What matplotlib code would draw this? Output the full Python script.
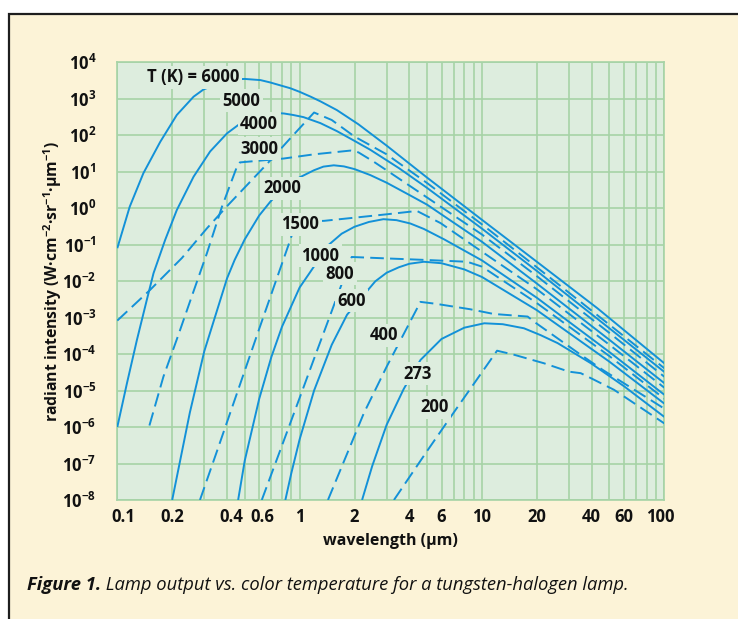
import matplotlib
matplotlib.use('Agg')
import matplotlib.pyplot as plt
from matplotlib.ticker import FixedLocator, NullLocator
from matplotlib.patches import Rectangle
import matplotlib.transforms as mtransforms

# ---------------- data ----------------
wl_6000 = [0.1, 0.117, 0.139, 0.172, 0.212, 0.262, 0.297, 0.37, 0.44, 0.5, 0.61, 0.69, 0.89, 1.0, 1.15, 1.3, 1.6, 2.1, 3, 5, 10, 20, 43, 100]
I_6000 = [0.08, 1.1, 9.1, 66, 360, 1140, 1800, 2800, 3400, 3500, 3250, 2800, 1940, 1550, 1140, 850, 490, 200, 52, 6.9, 0.48, 0.034, 1.8e-3, 5.6e-5]

wl_5000 = [0.1, 0.151, 0.226, 0.31, 0.41, 0.66, 0.89, 1.2, 1.5, 2, 3, 5, 10, 20, 50, 100]
I_5000 = [8.3e-4, 5.7e-3, 0.043, 0.28, 1.3, 16, 83, 420, 262, 92, 30, 4.9, 0.36, 0.024, 6.4e-4, 4.1e-5]

wl_4000 = [0.1, 0.113, 0.128, 0.145, 0.158, 0.183, 0.212, 0.262, 0.323, 0.40, 0.46, 0.55, 0.65, 0.75, 0.82, 0.92, 1.05, 1.3, 1.6, 2.0, 2.44, 3.5, 5, 10, 20, 50, 100]
I_4000 = [1.0e-6, 1.6e-5, 2.4e-4, 3.0e-3, 0.0165, 0.135, 0.89, 7.3, 36, 113, 190, 305, 385, 405, 395, 360, 314, 215, 130, 70, 40, 12.6, 3.6, 0.275, 0.019, 5.1e-4, 3.25e-5]

wl_3000 = [0.15, 0.179, 0.216, 0.256, 0.31, 0.375, 0.453, 0.47, 0.817, 1.2, 1.9, 2.1, 2.55, 3.2, 4.5, 10, 20, 50, 100]
I_3000 = [1.1e-6, 2.4e-5, 3.3e-4, 3.8e-3, 0.058, 1.1, 13.7, 18, 23, 30, 38, 34, 18.8, 8.8, 2.8, 0.19, 0.0137, 3.8e-4, 2.4e-5]

wl_2000 = [0.2, 0.25, 0.3, 0.4, 0.44, 0.5, 0.6, 0.69, 0.8, 1.0, 1.2, 1.35, 1.54, 1.75, 2, 2.44, 3, 4, 5, 10, 20, 50, 100]
I_2000 = [1e-8, 2.5e-6, 1.2e-4, 0.012, 0.038, 0.14, 0.63, 1.5, 3.3, 7, 11, 13.8, 15.0, 14.0, 11.8, 8.1, 5.0, 2.3, 1.25, 0.12, 8.6e-3, 2.46e-4, 1.6e-5]

wl_1500 = [0.284, 0.35, 0.45, 0.6, 0.75, 0.87, 0.96, 1.36, 2, 3, 4.4, 5.93, 10.3, 20, 50, 100]
I_1500 = [1e-8, 2.0e-7, 7.6e-6, 4.9e-4, 0.012, 0.10, 0.43, 0.45, 0.55, 0.68, 0.84, 0.39, 0.058, 6e-3, 1.8e-4, 1.2e-5]

wl_1000 = [0.46, 0.5, 0.6, 0.7, 0.8, 1.0, 1.145, 1.44, 1.7, 2.0, 2.4, 2.88, 3.4, 4.05, 4.8, 6.2, 10, 20, 50, 100]
I_1000 = [1e-8, 1.2e-7, 5.9e-6, 8.4e-5, 5.6e-4, 6.7e-3, 0.018, 0.098, 0.2, 0.31, 0.42, 0.5, 0.47, 0.38, 0.27, 0.14, 0.037, 3.5e-3, 1.14e-4, 7.7e-6]

wl_800 = [0.62, 0.8, 1.0, 1.2, 1.47, 1.93, 3, 5, 8.3, 10, 20, 50, 100]
I_800 = [1e-8, 3.1e-7, 6.3e-6, 7.5e-5, 1.15e-3, 0.046, 0.042, 0.038, 0.034, 0.025, 2.5e-3, 8.8e-5, 6e-6]

wl_600 = [0.835, 0.9, 1.0, 1.2, 1.5, 1.82, 2.3, 2.6, 3, 3.5, 4, 4.8, 6, 8, 10, 20, 50, 100]
I_600 = [1e-8, 5.4e-8, 4.6e-7, 1.0e-5, 1.8e-4, 1.2e-3, 4.8e-3, 9.9e-3, 0.017, 0.024, 0.03, 0.034, 0.031, 0.021, 0.013, 1.6e-3, 6.2e-5, 4.4e-6]

wl_400 = [1.43, 2.25, 3, 4.6, 5.57, 8.6, 11.6, 17.8, 19.7, 26, 34.8, 45.9, 100]
I_400 = [1e-8, 2.4e-6, 4.5e-5, 2.7e-3, 2.4e-3, 1.7e-3, 1.26e-3, 1.07e-3, 7.2e-4, 2.7e-4, 9.6e-5, 3.7e-5, 3.2e-6]

wl_273 = [2.2, 2.5, 3, 3.72, 4.6, 6, 8, 10.3, 13, 17, 21, 26, 39.6, 60.3, 100]
I_273 = [1e-8, 8.5e-8, 1.15e-6, 1.1e-5, 6.9e-5, 2.6e-4, 5.3e-4, 7e-4, 6.6e-4, 5.1e-4, 3.3e-4, 2.0e-4, 5.6e-5, 1.3e-5, 1.9e-6]

wl_200 = [3.29, 5, 7, 12.1, 15, 21.9, 30, 34.8, 39.5, 53, 100]
I_200 = [1e-8, 2.2e-7, 2.5e-6, 1.24e-4, 9.6e-5, 5.6e-5, 3.3e-5, 3.0e-5, 2.2e-5, 1.05e-5, 1.26e-6]

temps = [6000, 5000, 4000, 3000, 2000, 1500, 1000, 800, 600, 400, 273, 200]
label_texts = ['T (K) = 6000', '5000', '4000', '3000', '2000', '1500',
               '1000', '800', '600', '400', '273', '200']
label_wl = [0.26, 0.48, 0.60, 0.60, 0.80, 1.01, 1.30, 1.66, 1.92, 2.89, 4.46, 5.5]
label_I = [3900, 890, 205, 42, 3.5, 0.36, 0.050, 0.016, 2.9e-3, 3.3e-4, 2.9e-5, 3.5e-6]

x_tick_vals = [0.1, 0.2, 0.4, 0.6, 1, 2, 4, 6, 10, 20, 40, 60, 100]
x_tick_labels = ['0.1', '0.2', '0.4', '0.6', '1', '2', '4', '6', '10', '20', '40', '60', '100']
x_minor_vals = [0.3, 0.5, 0.7, 0.8, 0.9, 3, 5, 7, 8, 9, 30, 50, 70, 80, 90]
y_exponents = list(range(-8, 5))

curves = [(wl_6000, I_6000), (wl_5000, I_5000), (wl_4000, I_4000), (wl_3000, I_3000),
          (wl_2000, I_2000), (wl_1500, I_1500), (wl_1000, I_1000), (wl_800, I_800),
          (wl_600, I_600), (wl_400, I_400), (wl_273, I_273), (wl_200, I_200)]

# ---------------- style ----------------
CREAM = '#FCF3D7'
PLOT_BG = '#DDEDDE'
GRID = '#A6D3A6'
BLUE = '#1391D8'
INK = '#111111'

plt.rcParams['font.family'] = ['Open Sans', 'DejaVu Sans']
plt.rcParams['mathtext.fontset'] = 'custom'
plt.rcParams['mathtext.rm'] = 'Open Sans:bold'
plt.rcParams['mathtext.it'] = 'Open Sans:bold:italic'
plt.rcParams['mathtext.bf'] = 'Open Sans:bold'

W, H = 738, 619
fig = plt.figure(figsize=(W / 100, H / 100), dpi=100)
fig.patch.set_facecolor('white')
fig.add_artist(Rectangle((9 / W, -0.05), 1.2, (H - 14) / H + 0.05,
                         transform=fig.transFigure, facecolor=CREAM,
                         edgecolor='#1e1e1e', lw=1.6, zorder=0))

ax = fig.add_axes([117.3 / W, 119 / H, 547 / W, 437.7 / H])
ax.set_xscale('log')
ax.set_yscale('log')
ax.set_xlim(0.1, 100)
ax.set_ylim(1e-8, 1e4)
ax.set_facecolor(PLOT_BG)

ax.xaxis.set_major_locator(FixedLocator(x_tick_vals))
ax.xaxis.set_minor_locator(FixedLocator(x_minor_vals))
ax.set_xticklabels(x_tick_labels)
ax.yaxis.set_major_locator(FixedLocator([10.0 ** k for k in y_exponents]))
ax.yaxis.set_minor_locator(NullLocator())
ax.set_yticklabels([r'$10^{%d}$' % k for k in y_exponents])

ax.grid(True, which='both', axis='x', color=GRID, lw=1.2, zorder=0)
ax.grid(True, which='major', axis='y', color=GRID, lw=1.2, zorder=0)
ax.set_axisbelow(True)
for sp in ax.spines.values():
    sp.set_color(GRID)
    sp.set_linewidth(1.2)
ax.tick_params(which='both', length=0)
ax.tick_params(axis='x', pad=5.5, labelsize=12)
ax.tick_params(axis='y', pad=15, labelsize=12)
for lab in ax.get_xticklabels() + ax.get_yticklabels():
    lab.set_fontweight('bold')
    lab.set_color(INK)

# small manual nudges of a few x labels, as in the reference
nudges = {'0.1': 6, '0.4': 4, '0.6': 3, '100': -4}
for lab, txt in zip(ax.get_xticklabels(), x_tick_labels):
    if txt in nudges:
        lab.set_transform(lab.get_transform() +
                          mtransforms.ScaledTranslation(nudges[txt] / 100, 0, fig.dpi_scale_trans))

for i, (wl, inten) in enumerate(curves):
    ls = '-' if i % 2 == 0 else (0, (7, 3.2))
    ax.plot(wl, inten, color=BLUE, lw=1.4, ls=ls, zorder=3,
            solid_capstyle='butt', solid_joinstyle='round')

for txt, lx, ly in zip(label_texts, label_wl, label_I):
    ax.text(lx, ly, txt, ha='center', va='center', fontsize=12, fontweight='bold',
            color=INK, zorder=6,
            bbox=dict(boxstyle='square,pad=0.15', fc=PLOT_BG, ec='none'))

fig.text(390.8 / W, 1 - 541 / H, 'wavelength (µm)', ha='center', va='center',
         fontsize=11.5, fontweight='bold', color=INK)
fig.text(52.5 / W, 1 - 281.5 / H,
         r'radiant intensity (W·cm$^{-2}$·sr$^{-1}$·µm$^{-1}$)',
         ha='center', va='center', rotation=90, fontsize=11.3,
         fontweight='bold', color=INK)

t1 = fig.text(26.7 / W, 1 - 590 / H, 'Figure 1.', ha='left', va='baseline',
              fontsize=13.2, fontweight='bold', fontstyle='italic', color=INK)
ax.annotate(' Lamp output vs. color temperature for a tungsten-halogen lamp.',
            xy=(1, 0), xycoords=t1, ha='left', va='bottom', fontsize=13.2,
            fontstyle='italic', color=INK, annotation_clip=False)

fig.savefig('out.png', dpi=100, facecolor=fig.get_facecolor())
